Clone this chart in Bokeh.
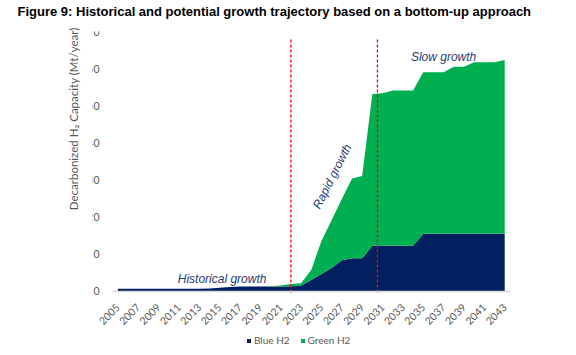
import math
from bokeh.plotting import figure
from bokeh.models import ColumnDataSource, Range1d, FixedTicker, Label, Legend, Title
from bokeh.core.properties import value
from bokeh.embed import file_html
from bokeh.resources import INLINE

years = list(range(2005, 2044))
blue_h2 = [0.7] * 9 + [0.8, 1.0, 1.2, 1.3, 1.3, 1.3, 1.3, 1.3, 1.4, 1.5,
                       3.1, 4.7, 6.3, 8.4, 8.9, 8.9, 12.3, 12.3, 12.3, 12.3, 12.3] + [15.5] * 9
green_h2 = [0.0] * 15 + [0.1, 0.3, 0.6, 0.7, 2.7, 8.9, 12.9, 16.5, 21.5, 22.2,
                         40.9, 41.1, 41.8, 41.8, 41.8, 43.5, 43.5, 43.5, 45.0, 45.0,
                         46.2, 46.2, 46.2, 46.8]
phase_lines = [2022, 2030.5]
x_ticks = list(range(2005, 2044, 2))
y_ticks = list(range(0, 71, 10))

NAVY = "#002060"
GREEN = "#00B050"
GRAY = "#595959"
ANN = "#1F3B70"

src = ColumnDataSource(dict(year=years, blue=blue_h2, green=green_h2))

X0, X1 = 2004.48, 2043.57

# frame reaches down to the legend row and left past the first tick label;
# both axes are pinned at data positions inside it
p = figure(frame_width=418, frame_height=321, output_backend="svg", toolbar_location=None,
           x_range=Range1d(2002.515, X1), y_range=Range1d(-16.45, 70),
           min_border_left=92, min_border_right=66, min_border_top=31,
           min_border_bottom=3)
p.outline_line_color = None
p.xgrid.visible = False
p.ygrid.visible = False
p.background_fill_color = "white"
p.border_fill_color = "white"

p.add_layout(Title(text=" ", text_font_size="9px", standoff=0), "above")

p.title.text = "Figure 9: Historical and potential growth trajectory based on a bottom-up approach"
p.title.text_font = "Liberation Sans"
p.title.text_font_style = "bold"
p.title.text_font_size = "13px"
p.title.align = "left"
p.title.offset = -75
p.title.standoff = 2
p.title.text_color = "black"

r = p.varea_stack(["blue", "green"], x="year", color=[NAVY, GREEN], source=src)

p.segment(x0=phase_lines, y0=[-0.3] * 2, x1=phase_lines, y1=[68] * 2,
          line_color="#FF0000", line_dash="3 2", line_width=1.3)

xa = p.xaxis[0]
xa.fixed_location = 0
xa.bounds = (X0, X1)
xa.ticker = FixedTicker(ticks=x_ticks)
xa.major_label_orientation = math.pi / 4
xa.major_tick_line_color = None
xa.minor_tick_line_color = None
xa.axis_line_color = "#D9D9D9"
xa.axis_line_width = 1.5
xa.major_label_text_font = "Lato"
xa.major_label_text_font_size = "10.5px"
xa.major_label_text_color = GRAY
xa.major_label_standoff = 8

ya = p.yaxis[0]
ya.fixed_location = X0
ya.ticker = FixedTicker(ticks=y_ticks)
ya.major_tick_line_color = None
ya.minor_tick_line_color = None
ya.axis_line_color = None
ya.major_label_text_font = "Lato"
ya.major_label_text_font_size = "10.5px"
ya.major_label_text_color = GRAY
ya.major_label_standoff = 7

p.add_layout(Title(text=" ", text_font_size="6px", standoff=0), "left")
ytitle = Title(text="Decarbonized H\u2082 Capacity (Mt/year)", align="right",
               offset=-4, text_font="Lato", text_font_size="11.5px",
               text_font_style="normal", text_color=GRAY)
p.add_layout(ytitle, "left")

for txt, x, y, ang in [("Historical growth", 2015.24, 3.4, 0.0),
                       ("Rapid growth", 2026.06, 31.0, 1.10),
                       ("Slow growth", 2037.0, 63.2, 0.0)]:
    p.add_layout(Label(x=x, y=y, text=txt, angle=ang, text_align="center",
                       text_baseline="middle", text_font="Liberation Sans",
                       text_font_style="italic", text_font_size="12px",
                       text_color=ANN))

legend = Legend(items=[("Blue H2", [r[0]]), ("Green H2", [r[1]])],
                location=(154, 6), orientation="horizontal",
                glyph_width=5, glyph_height=5, label_standoff=3, spacing=10,
                padding=0, margin=0, border_line_color=None,
                background_fill_alpha=0, label_text_font="Lato",
                label_text_font_size="10px", label_text_color=GRAY,
                label_height=10)
p.add_layout(legend, "center")

open("out.html", "w").write(file_html(p, INLINE))
